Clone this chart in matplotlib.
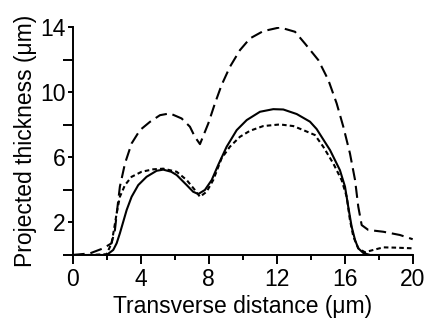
import matplotlib.pyplot as plt
from matplotlib.ticker import FixedLocator

plt.rcParams['font.family'] = ['Liberation Sans', 'DejaVu Sans']

# solid curve
x_solid = [0, 1.0, 2.0, 2.39, 2.59, 2.78, 2.98, 3.18, 3.47, 3.86, 4.35, 4.94, 5.33,
           5.8, 6.12, 6.71, 7.09, 7.39, 7.78, 8.18, 8.56, 9.06, 9.65, 10.24, 11.02,
           11.8, 12.39, 13.18, 13.96, 14.35, 15.14, 15.72, 16.02, 16.21, 16.41,
           16.61, 16.8, 17.1, 17.5, 20]
y_solid = [0, 0, 0, 0.31, 0.72, 1.33, 2.05, 2.77, 3.58, 4.3, 4.81, 5.18, 5.25,
           5.12, 4.92, 4.3, 3.89, 3.75, 4.0, 4.61, 5.53, 6.66, 7.68, 8.3, 8.81,
           8.97, 8.95, 8.67, 8.2, 7.75, 6.45, 5.22, 4.2, 2.97, 1.74,
           0.92, 0.41, 0.12, 0, 0]

# short-dashed curve
x_dot = [0, 1.0, 2.0, 2.29, 2.43, 2.59, 2.78, 3.08, 3.47, 4.06, 4.74, 5.33, 6.12,
         6.71, 7.19, 7.49, 7.88, 8.27, 8.76, 9.25, 9.84, 10.43, 11.21, 12.19,
         12.98, 13.57, 14.25, 14.74, 15.33, 15.82, 16.12, 16.31, 16.51, 16.8,
         17.19, 17.68, 18.27, 19.06, 20]
y_dot = [0, 0, 0.05, 0.72, 1.54, 2.56, 3.58, 4.3, 4.81, 5.12, 5.27, 5.31, 5.12,
         4.61, 4.0, 3.58, 3.89, 4.61, 5.94, 6.66, 7.27, 7.64, 7.93, 8.03,
         7.93, 7.68, 7.38, 6.66, 5.63, 4.61, 3.58, 2.15, 1.13, 0.41,
         0.17, 0.31, 0.47, 0.45, 0.41]

# long-dashed curve
x_dash = [0, 1.02, 1.8, 2.29, 2.49, 2.62, 2.78, 3.08, 3.47, 3.96, 4.55, 5.14, 5.72,
          6.41, 6.9, 7.19, 7.49, 7.98, 8.37, 8.76, 9.25, 9.84, 10.43, 11.21, 12.19,
          13.08, 13.66, 14.45, 15.04, 15.53, 15.92, 16.31, 16.61, 16.8, 17.0,
          17.39, 18.27, 19.25, 20]
y_dash = [0, 0.1, 0.41, 0.72, 1.54, 2.77, 4.2, 5.63, 6.86, 7.68, 8.19, 8.6, 8.71,
          8.4, 7.89, 7.27, 6.82, 8.09, 9.32, 10.45, 11.57, 12.6, 13.32, 13.77, 14.0,
          13.73, 13.01, 11.99, 10.76, 9.32, 7.89, 6.25, 4.61, 2.97, 1.84,
          1.54, 1.43, 1.23, 0.97]

x_major = [0, 4, 8, 12, 16, 20]
x_minor = [2, 6, 10, 14, 18]
y_major = [2, 6, 10, 14]
y_minor = [0, 4, 8, 12]

fig = plt.figure(figsize=(4.27, 3.26), dpi=100)
ax = fig.add_axes([0.170, 0.2178, 0.7965, 0.6982])

lw = 1.5
ax.plot(x_dash, y_dash, color='black', lw=lw, dashes=(5.8, 2.8))
ax.plot(x_solid, y_solid, color='black', lw=lw)
ax.plot(x_dot, y_dot, color='black', lw=lw, dashes=(2.2, 1.5))

ax.set_xlim(0, 20)
ax.set_ylim(0, 14)
for s in ['top', 'right']:
    ax.spines[s].set_visible(False)
for s in ['left', 'bottom']:
    ax.spines[s].set_linewidth(1.4)

ax.xaxis.set_major_locator(FixedLocator(x_major))
ax.xaxis.set_minor_locator(FixedLocator(x_minor))
ax.yaxis.set_major_locator(FixedLocator(y_major))
ax.yaxis.set_minor_locator(FixedLocator(y_minor))
ax.tick_params(axis='x', which='major', length=6.5, width=1.4, labelsize=16.5, pad=3)
ax.tick_params(axis='x', which='minor', length=3.5, width=1.4)
ax.tick_params(axis='y', which='major', length=3.5, width=1.4, labelsize=16.5, pad=1.5)
ax.tick_params(axis='y', which='minor', length=7.5, width=1.4)

ax.set_xlabel('Transverse distance (μm)', fontsize=16.5, labelpad=3)
ax.set_ylabel('Projected thickness (μm)', fontsize=16.5, labelpad=2)

fig.savefig('out.png', dpi=100)
